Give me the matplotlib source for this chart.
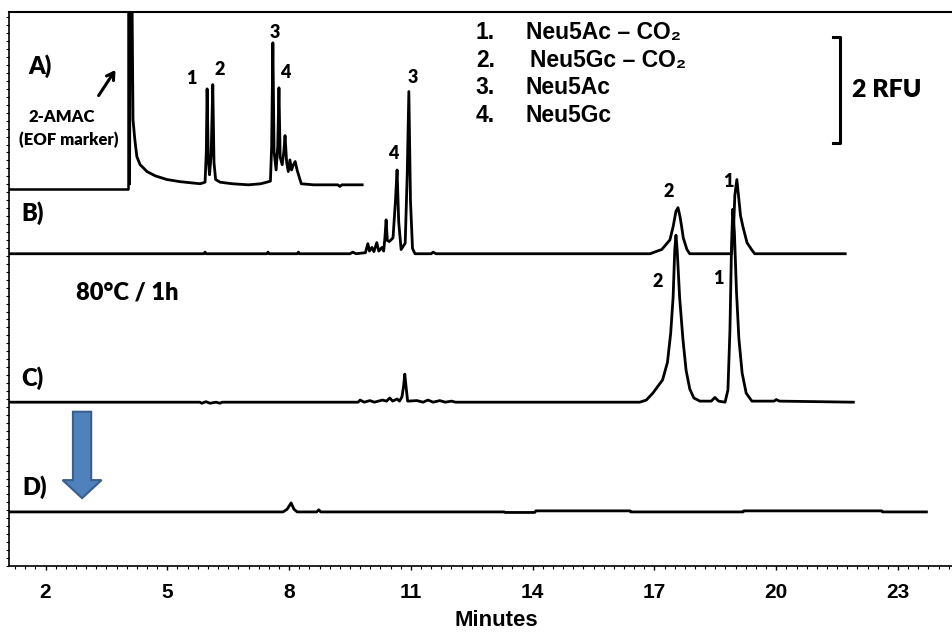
import numpy as np
import matplotlib.pyplot as plt
from matplotlib.patches import FancyArrow
from matplotlib.ticker import MultipleLocator

# traces: [minutes, signal above own baseline (RFU)]
trace_a = np.array([
	[4.07, 0.0], [4.09, 4.5], [4.12, 4.5], [4.155, 1.21], [4.20, 0.83], [4.25, 0.51],
	[4.33, 0.36], [4.50, 0.23], [4.70, 0.15], [4.99, 0.08], [5.31, 0.04], [5.81, 0.0],
	[5.93, 0.03], [5.96, 0.6], [5.98, 1.79], [6.01, 0.45], [6.04, 0.17], [6.08, 0.55],
	[6.12, 1.87], [6.15, 0.4], [6.19, 0.08], [6.30, 0.03], [6.60, 0.0], [7.00, -0.02],
	[7.30, 0.0], [7.45, 0.03], [7.54, 0.05], [7.57, 0.7], [7.60, 2.66], [7.63, 0.6],
	[7.68, 0.26], [7.72, 0.7], [7.75, 1.81], [7.78, 0.5], [7.83, 0.36], [7.87, 0.6],
	[7.90, 0.91], [7.94, 0.4], [7.98, 0.23], [8.02, 0.45], [8.06, 0.26], [8.10, 0.35],
	[8.15, 0.42], [8.20, 0.25], [8.30, 0.0], [8.60, -0.02], [9.20, -0.02], [9.25, -0.05],
	[9.30, -0.02], [9.80, -0.02]])

trace_b = np.array([
	[1.10, 0.0], [5.90, 0.0], [5.93, 0.03], [5.96, 0.0], [7.45, 0.0], [7.48, 0.03],
	[7.51, 0.0], [8.20, 0.0], [8.23, 0.03], [8.26, 0.0], [9.50, 0.0], [9.57, 0.03],
	[9.65, 0.0], [9.88, 0.02], [9.94, 0.19], [9.98, 0.05], [10.04, 0.12], [10.09, 0.04],
	[10.16, 0.21], [10.21, 0.05], [10.29, 0.12], [10.33, 0.05], [10.36, 0.3], [10.39, 0.64],
	[10.42, 0.25], [10.47, 0.23], [10.56, 0.3], [10.62, 1.0], [10.66, 1.58], [10.70, 0.6],
	[10.76, 0.08], [10.86, 0.2], [10.91, 1.5], [10.95, 3.06], [10.99, 1.0], [11.04, 0.1],
	[11.10, 0.0], [11.50, 0.0], [11.55, 0.03], [11.62, 0.0], [16.90, 0.0], [16.96, 0.02],
	[17.18, 0.08], [17.38, 0.26], [17.46, 0.51], [17.53, 0.8], [17.58, 0.87], [17.63, 0.7],
	[17.67, 0.51], [17.71, 0.3], [17.80, 0.08], [17.87, 0.0], [18.90, 0.0], [18.94, 0.3],
	[18.98, 1.1], [19.03, 1.40], [19.07, 1.1], [19.12, 0.72], [19.18, 0.51], [19.28, 0.21],
	[19.40, 0.07], [19.47, 0.0], [21.70, 0.0]])

trace_c = np.array([
	[1.10, 0.0], [5.80, 0.0], [5.85, -0.02], [5.95, 0.01], [6.05, -0.02], [6.20, 0.0],
	[6.30, -0.02], [6.35, 0.0], [9.70, 0.0], [9.75, 0.04], [9.85, 0.0], [9.99, 0.03],
	[10.10, 0.0], [10.30, 0.04], [10.40, 0.02], [10.48, 0.08], [10.55, 0.02], [10.66, 0.06],
	[10.72, 0.02], [10.78, 0.1], [10.82, 0.3], [10.85, 0.53], [10.88, 0.3], [10.92, 0.02],
	[11.15, 0.03], [11.30, 0.0], [11.42, 0.04], [11.55, 0.0], [11.71, 0.03], [11.85, 0.0],
	[12.00, 0.02], [12.10, 0.0], [16.64, 0.0], [16.80, 0.04], [16.96, 0.17], [17.20, 0.42],
	[17.32, 0.75], [17.40, 1.3], [17.46, 1.98], [17.50, 2.87], [17.53, 3.15], [17.56, 2.87],
	[17.62, 1.98], [17.70, 1.2], [17.78, 0.6], [17.87, 0.25], [17.97, 0.08], [18.12, 0.02],
	[18.40, 0.02], [18.49, 0.09], [18.58, 0.02], [18.74, 0.0], [18.81, 0.23], [18.86, 1.36],
	[18.90, 3.0], [18.93, 3.64], [18.97, 3.2], [19.02, 2.1], [19.08, 1.2], [19.16, 0.55],
	[19.26, 0.17], [19.40, 0.02], [19.95, 0.02], [20.00, 0.05], [20.08, 0.02], [21.90, 0.0]])

trace_d = np.array([
	[1.10, 0.0], [7.85, 0.0], [7.95, 0.05], [8.05, 0.17], [8.12, 0.05], [8.20, 0.0],
	[8.68, 0.0], [8.73, 0.04], [8.78, 0.0], [13.30, 0.0], [13.32, -0.01], [14.05, -0.01],
	[14.08, 0.02], [16.40, 0.02], [16.42, 0.0], [19.18, 0.0], [19.20, 0.02], [22.60, 0.02],
	[22.62, 0.0], [23.70, 0.0]])

panel_names = ["A)", "B)", "C)", "D)"]
legend_nums = ["1.", "2.", "3.", "4."]
legend_names = ["Neu5Ac – CO₂", "Neu5Gc – CO₂", "Neu5Ac", "Neu5Gc"]
x_ticks = [2, 5, 8, 11, 14, 17, 20, 23]

# layout (RFU baselines of each trace, in axis units)
offsets = [7.21, 5.89, 3.09, 1.02]
XMIN, XMAX = 1.10, 24.33
YMIN, YMAX = 0.0, 10.45
BOX_RIGHT, BOX_BOTTOM = 4.03, 7.11

calib = ["Lato", "DejaVu Sans"]
arial = ["Liberation Sans", "DejaVu Sans"]
HEAVY = "heavy"

fig = plt.figure(figsize=(9.52, 6.33), dpi=100)
ax = fig.add_axes([9/952, 67/633, 943/952, 554/633])

for tr, off in zip([trace_a, trace_b, trace_c, trace_d], offsets):
	ax.plot(tr[:, 0], tr[:, 1] + off, color="black", lw=2.0, solid_joinstyle="round")

# frame of the inset trace A
ax.plot([XMIN, BOX_RIGHT, BOX_RIGHT], [BOX_BOTTOM, BOX_BOTTOM, YMAX], color="black", lw=1.8)

ax.set_xlim(XMIN, XMAX)
ax.set_ylim(YMIN, YMAX)
ax.set_xticks(x_ticks)
ax.set_yticks([])
ax.xaxis.set_minor_locator(MultipleLocator(0.25))
ax.yaxis.set_minor_locator(MultipleLocator(0.15))
ax.tick_params(axis="x", which="major", length=3, width=1, pad=9)
ax.tick_params(axis="both", which="minor", length=2, width=0.8)
for lab in ax.get_xticklabels():
	lab.set_fontfamily(arial)
	lab.set_fontweight("bold")
	lab.set_fontsize(15)
ax.spines["right"].set_visible(False)
ax.spines["top"].set_linewidth(1.5)
ax.spines["left"].set_linewidth(1.2)
ax.spines["bottom"].set_linewidth(1.2)
ax.spines["bottom"].set_linestyle((0, (2, 1)))

fig.text(496/952, 1 - 620/633, "Minutes", ha="center", va="center",
		 fontsize=16, fontweight="bold", family=arial)

# panel letters
panel_xy = [(1.86, 9.42), (1.67, 6.66), (1.67, 3.55), (1.72, 1.49)]
for name, (x, y) in zip(panel_names, panel_xy):
	ax.text(x, y, name, ha="center", va="center", fontsize=17, fontweight=HEAVY, family=calib)

# peak numbers
peak_labels = [("1", 5.58, 9.19), ("2", 6.30, 9.36), ("3", 7.65, 10.06), ("4", 7.90, 9.30),
			   ("4", 10.56, 7.79), ("3", 11.05, 9.21), ("2", 17.36, 7.06), ("1", 18.81, 7.25),
			   ("2", 17.09, 5.36), ("1", 18.57, 5.43)]
for s, x, y in peak_labels:
	ax.text(x, y, s, ha="center", va="center", fontsize=13, fontweight=HEAVY, family=calib)

ax.text(4.01, 5.15, "80°C / 1h", ha="center", va="center", fontsize=17, fontweight=HEAVY, family=calib)
ax.text(2.41, 8.47, "2-AMAC", ha="center", va="center", fontsize=12, fontweight=HEAVY, family=calib)
ax.text(2.58, 8.04, "(EOF marker)", ha="center", va="center", fontsize=12, fontweight=HEAVY, family=calib)
ax.annotate("", xy=(3.76, 9.40), xytext=(3.27, 8.83),
			arrowprops=dict(arrowstyle="->,head_length=0.5,head_width=0.3", lw=2.2, color="black"))

# legend of compounds
leg_y = [10.06, 9.53, 9.02, 8.49]
name_x = [13.83, 13.93, 13.83, 13.83]
for num, name, y, nx in zip(legend_nums, legend_names, leg_y, name_x):
	ax.text(12.60, y, num, ha="left", va="center", fontsize=16.5, fontweight="bold", family=arial)
	ax.text(nx, y, name, ha="left", va="center", fontsize=16.5, fontweight="bold", family=arial)

# 2 RFU scale bar
ax.plot([21.40, 21.57, 21.57, 21.40], [9.98, 9.98, 7.98, 7.98], color="black", lw=2.2)
ax.text(21.86, 8.98, "2 RFU", ha="left", va="center", fontsize=18, fontweight=HEAVY, family=calib)

# blue down arrow
ax.add_patch(FancyArrow(2.90, 2.91, 0, -1.63, width=0.45, head_width=0.96, head_length=0.34,
						length_includes_head=True, facecolor="#4F81BD", edgecolor="#3A5F8B", lw=1.5))

fig.savefig("out.png", dpi=100)
